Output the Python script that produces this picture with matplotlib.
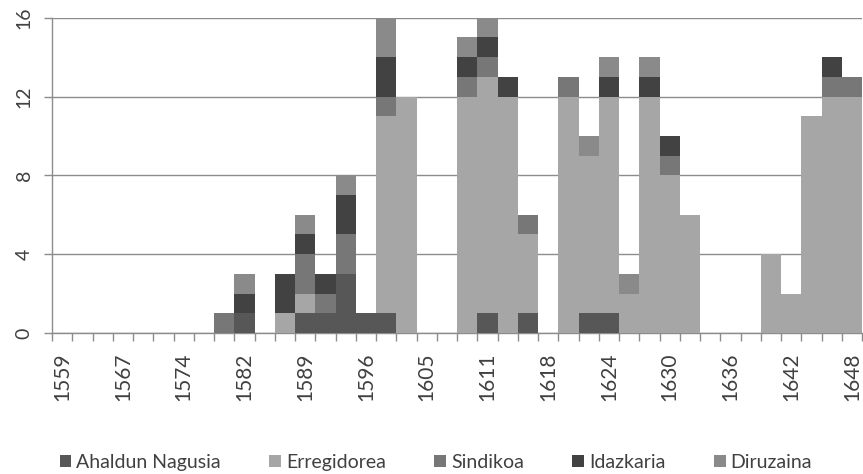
import matplotlib
matplotlib.use("Agg")
import matplotlib.pyplot as plt
import numpy as np

plt.rcParams['font.family'] = ['Lato', 'DejaVu Sans']

years = [1559, 1561, 1564, 1567, 1569, 1572, 1574, 1577, 1579, 1582,
         1584, 1587, 1589, 1591, 1594, 1596, 1598, 1600, 1605, 1607,
         1609, 1611, 1613, 1615, 1618, 1620, 1622, 1624, 1626, 1628,
         1630, 1632, 1634, 1636, 1638, 1640, 1642, 1644, 1646, 1648]

ahaldun = [0, 0, 0, 0, 0, 0, 0, 0, 0, 1,
           0, 0, 1, 1, 3, 1, 1, 0, 0, 0,
           0, 1, 0, 1, 0, 0, 1, 1, 0, 0,
           0, 0, 0, 0, 0, 0, 0, 0, 0, 0]
erregidorea = [0, 0, 0, 0, 0, 0, 0, 0, 0, 0,
               0, 1, 1, 0, 0, 0, 10, 12, 0, 0,
               12, 12, 12, 4, 0, 12, 8, 11, 2, 12,
               8, 6, 0, 0, 0, 4, 2, 11, 12, 12]
sindikoa = [0, 0, 0, 0, 0, 0, 0, 0, 1, 0,
            0, 0, 2, 1, 2, 0, 1, 0, 0, 0,
            1, 1, 0, 1, 0, 1, 0, 0, 0, 0,
            1, 0, 0, 0, 0, 0, 0, 0, 1, 1]
idazkaria = [0, 0, 0, 0, 0, 0, 0, 0, 0, 1,
             0, 2, 1, 1, 2, 0, 2, 0, 0, 0,
             1, 1, 1, 0, 0, 0, 0, 1, 0, 1,
             1, 0, 0, 0, 0, 0, 0, 0, 1, 0]
diruzaina = [0, 0, 0, 0, 0, 0, 0, 0, 0, 1,
             0, 0, 1, 0, 1, 0, 2, 0, 0, 0,
             1, 1, 0, 0, 0, 0, 1, 1, 1, 1,
             0, 0, 0, 0, 0, 0, 0, 0, 0, 0]

series = [("Ahaldun Nagusia", ahaldun, "#575757"),
          ("Erregidorea", erregidorea, "#a6a6a6"),
          ("Sindikoa", sindikoa, "#777777"),
          ("Idazkaria", idazkaria, "#424242"),
          ("Diruzaina", diruzaina, "#8a8a8a")]

fig = plt.figure(figsize=(8.63, 4.74), dpi=100)
ax = fig.add_axes([0.0603, 0.2975, 0.9387, 0.665])

x = np.arange(len(years))
bottom = np.zeros(len(years))
for name, vals, col in series:
    vals = np.array(vals)
    ax.bar(x, vals, width=1.0, bottom=bottom, color=col, label=name,
           linewidth=0, zorder=3)
    bottom += vals

ax.set_xlim(-0.5, len(years) - 0.5)
ax.set_ylim(0, 16)
ax.set_yticks([0, 4, 8, 12, 16])
ax.yaxis.grid(True, color="#8c8c8c", linewidth=1.0, zorder=0)

# tick marks on category boundaries, labels on every third category
ax.set_xticks(np.arange(-0.5, len(years), 1.0))
ax.set_xticklabels([])
ax.set_xticks(x[::3], minor=True)
ax.set_xticklabels([str(y) for y in years[::3]], minor=True, rotation=90)
ax.tick_params(axis="x", which="major", length=6, color="#8c8c8c", width=1)
ax.tick_params(axis="x", which="minor", length=0, pad=14, labelsize=15,
               labelcolor="#404040")
ax.tick_params(axis="y", length=6, color="#8c8c8c", width=1, labelsize=14,
               labelcolor="#404040", pad=8)
for lab in ax.get_yticklabels():
    lab.set_rotation(90)
    lab.set_va("center")

for s in ["top", "right"]:
    ax.spines[s].set_visible(False)
for s in ["left", "bottom"]:
    ax.spines[s].set_color("#8c8c8c")
    ax.spines[s].set_linewidth(1.0)

leg = fig.legend(loc="center", bbox_to_anchor=(0.505, 0.025), ncol=5,
                 frameon=False, fontsize=14, handlelength=0.6,
                 handleheight=0.6, handletextpad=0.25, columnspacing=2.5,
                 labelcolor="#404040")

fig.savefig("out.png", dpi=100)
